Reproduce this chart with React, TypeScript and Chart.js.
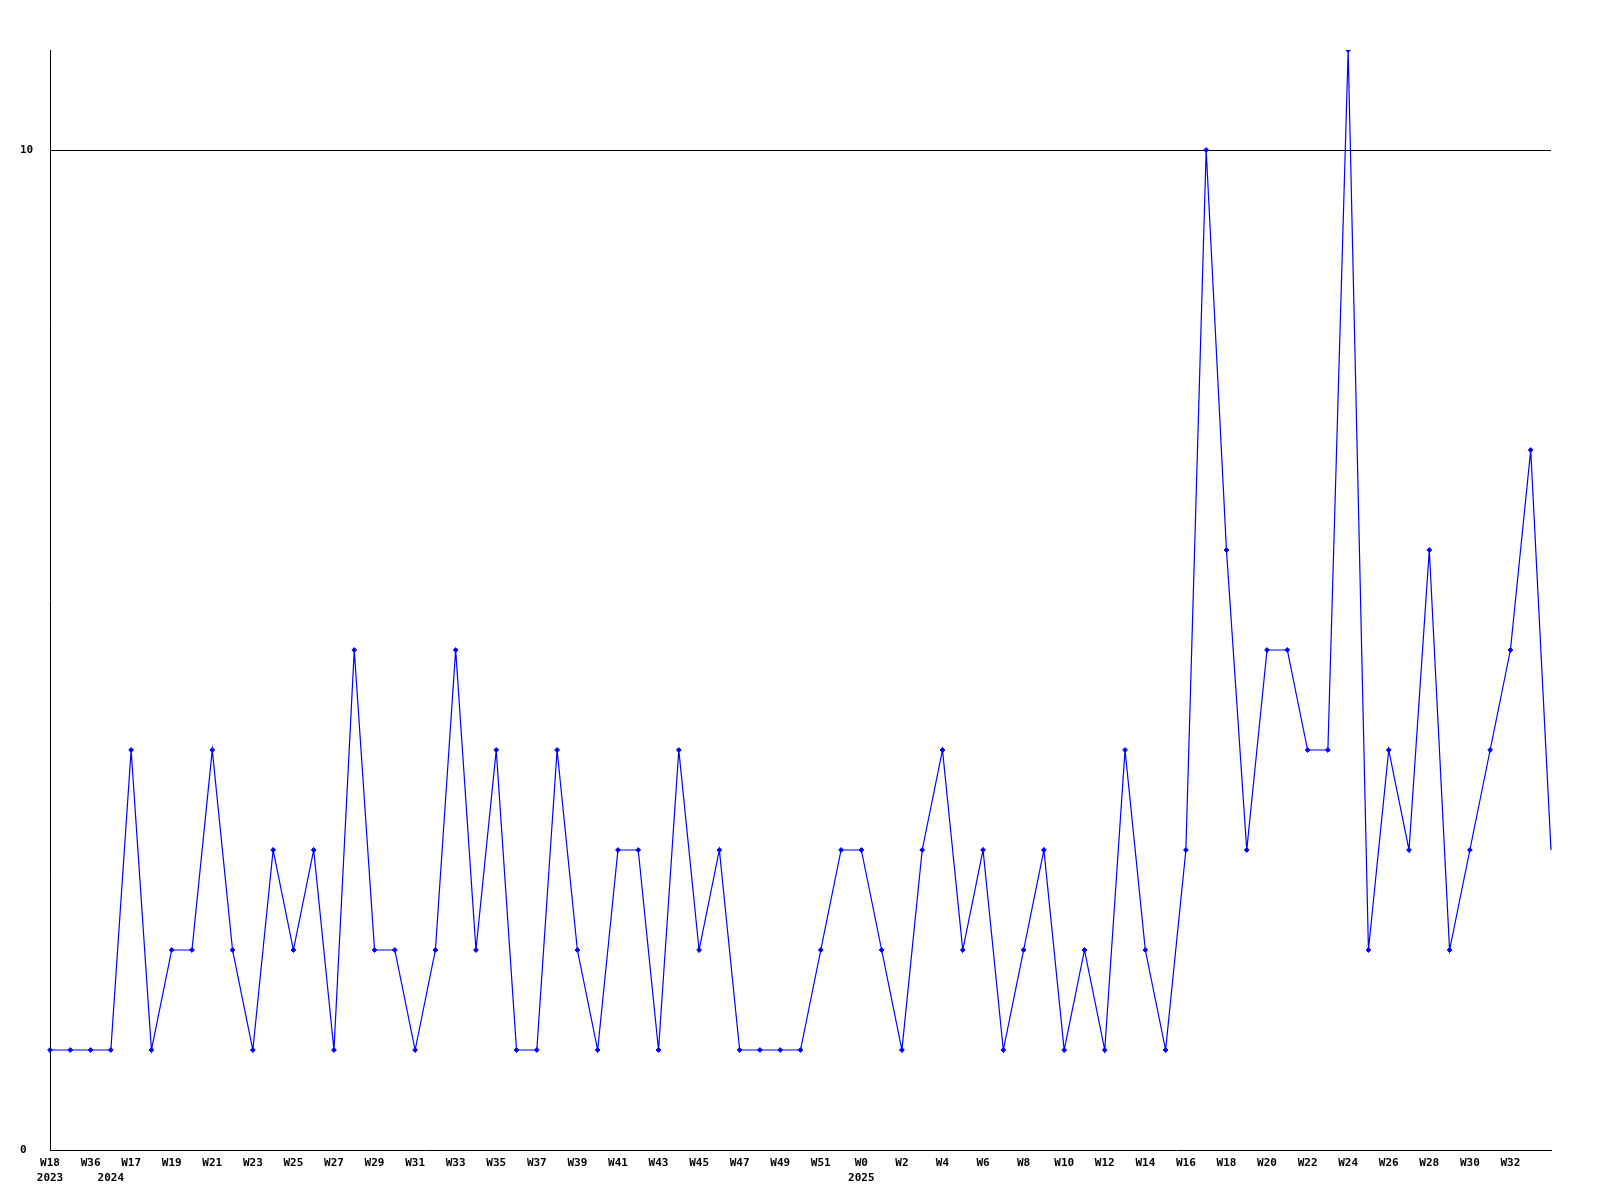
import React, { useEffect, useRef } from "react";
import { Chart, registerables } from "chart.js";

Chart.register(...registerables);

const weeks = [
  "W18", "W24", "W36", "W1", "W17", "W18", "W19", "W20", "W21", "W22",
  "W23", "W24", "W25", "W26", "W27", "W28", "W29", "W30", "W31", "W32",
  "W33", "W34", "W35", "W36", "W37", "W38", "W39", "W40", "W41", "W42",
  "W43", "W44", "W45", "W46", "W47", "W48", "W49", "W50", "W51", "W52",
  "W0", "W1", "W2", "W3", "W4", "W5", "W6", "W7", "W8", "W9",
  "W10", "W11", "W12", "W13", "W14", "W15", "W16", "W17", "W18", "W19",
  "W20", "W21", "W22", "W23", "W24", "W25", "W26", "W27", "W28", "W29",
  "W30", "W31", "W32", "W33", "W34",
];

// year shown under the first week of each year
const yearMarks: Record<number, string> = { 0: "2023", 3: "2024", 40: "2025" };

const counts = [
  1, 1, 1, 1, 4, 1, 2, 2, 4, 2,
  1, 3, 2, 3, 1, 5, 2, 2, 1, 2,
  5, 2, 4, 1, 1, 4, 2, 1, 3, 3,
  1, 4, 2, 3, 1, 1, 1, 1, 2, 3,
  3, 2, 1, 3, 4, 2, 3, 1, 2, 3,
  1, 2, 1, 4, 2, 1, 3, 10, 6, 3,
  5, 5, 4, 4, 11, 2, 4, 3, 6, 2,
  3, 4, 5, 7, 3,
];

const yTicks = [0, 10];

export default function App() {
  const ref = useRef<HTMLCanvasElement | null>(null);

  useEffect(() => {
    if (!ref.current) return;
    const font = { family: "'DejaVu Sans Mono', monospace", size: 11, weight: "bold" as const, lineHeight: "15px" };
    const last = counts.length - 1;
    const tickLabel = (idx: number) => {
      const w = idx % 2 === 0 && idx !== last ? weeks[idx] : "";
      const y = yearMarks[idx];
      return y ? [w, y] : w;
    };
    const chart = new Chart(ref.current, {
      type: "line",
      data: {
        labels: weeks.map((w, i) => (yearMarks[i] ? [w, yearMarks[i]] : w)),
        datasets: [
          {
            data: counts,
            borderColor: "#0000ff",
            backgroundColor: "#0000ff",
            borderWidth: 1.2,
            pointStyle: "rectRot",
            pointRadius: (ctx: any) => (ctx.dataIndex === last ? 0 : 2.4),
            pointBorderWidth: 1,
            pointBorderColor: "#0000ff",
            pointBackgroundColor: "#0000ff",
            tension: 0,
          },
        ],
      },
      options: {
        animation: false,
        responsive: false,
        maintainAspectRatio: false,
        layout: { padding: { left: 20, top: 50, right: 49, bottom: 0 } },
        plugins: { legend: { display: false }, tooltip: { enabled: false } },
        scales: {
          x: {
            type: "category",
            offset: false,
            grid: { display: false, drawTicks: false },
            border: { display: true, color: "#000000", width: 1 },
            ticks: {
              autoSkip: false,
              maxRotation: 0,
              minRotation: 0,
              padding: 6,
              color: "#000000",
              font,
              callback: function (this: any, _v: any, idx: number) {
                return tickLabel(idx);
              },
            },
            afterFit: (s: any) => {
              s.height = 50;
            },
          },
          y: {
            min: 0,
            max: 11,
            afterBuildTicks: (s: any) => {
              s.ticks = yTicks.map((v) => ({ value: v }));
            },
            grid: {
              drawTicks: false,
              color: (ctx: any) => (ctx.tick && ctx.tick.value === 10 ? "#000000" : "rgba(0,0,0,0)"),
              lineWidth: 1,
            },
            border: { display: true, color: "#000000", width: 1 },
            ticks: {
              color: "#000000",
              font,
              crossAlign: "far",
              padding: 0,
            },
            afterFit: (s: any) => {
              s.width = 30;
            },
          },
        },
      },
    });
    return () => chart.destroy();
  }, []);

  return (
    <div style={{ position: "fixed", left: 0, top: 0, width: 1600, height: 1200, background: "#ffffff" }}>
      <canvas ref={ref} width={1600} height={1200} style={{ width: 1600, height: 1200 }} />
    </div>
  );
}
